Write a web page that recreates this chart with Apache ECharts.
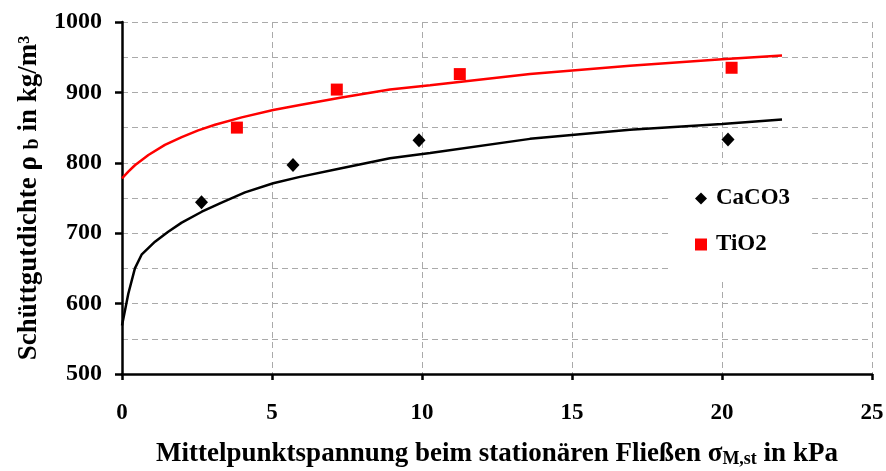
<!DOCTYPE html>
<html>
<head>
<meta charset="utf-8">
<script src="https://cdn.jsdelivr.net/npm/echarts@6/dist/echarts.min.js"></script>
<style>
html,body{margin:0;padding:0;background:#fff;}
#c{width:886px;height:471px;}
</style>
</head>
<body>
<div id="c"></div>
<script>
// Measured points
const caco3X = [2.65, 5.7, 9.9, 20.2];
const caco3Y = [744, 797, 832, 833];
const tio2X = [3.83, 7.16, 11.26, 20.32];
const tio2Y = [850, 904, 926, 935];

// Fit curves
const redFitX = [0, 0.21, 0.43, 0.88, 1.43, 1.99, 2.54, 3.1, 3.99, 5.04, 5.93, 7.27, 8.93, 10.27, 13.6, 16.93, 20, 22];
const redFitY = [778, 787.5, 796.5, 811, 825.5, 836.5, 846, 854, 864.5, 875, 882, 892.5, 904, 910, 926, 938, 947, 952.5];
const blackFitX = [0, 0.21, 0.43, 0.66, 1.1, 1.54, 1.99, 2.66, 3.32, 4.1, 5.04, 5.93, 7.27, 8.93, 10.27, 13.6, 16.93, 20, 22];
const blackFitY = [569, 614, 650, 670, 688, 702, 715, 730.5, 743.5, 758, 771, 780, 792, 806.5, 814, 834, 847, 855, 861.5];

const xTicks = [0, 5, 10, 15, 20, 25];
const yTicks = [500, 600, 700, 800, 900, 1000];

const pairs = (xs, ys) => xs.map((x, i) => [x, ys[i]]);
const FONT = '"Liberation Serif", "Times New Roman", serif';

const chart = echarts.init(document.getElementById('c'), null, {renderer: 'canvas'});
chart.setOption({
  animation: false,
  backgroundColor: '#fff',
  grid: {left: 122, right: 14, top: 22, bottom: 97, containLabel: false, outerBoundsMode: 'none'},
  legend: {
    orient: 'vertical',
    left: 668, top: 165,
    padding: [22, 22, 22, 27],
    backgroundColor: '#fff',
    itemWidth: 12, itemHeight: 12,
    itemGap: 23,
    data: ['CaCO3', 'TiO2'],
    textStyle: {fontFamily: FONT, fontWeight: 'bold', fontSize: 23, color: '#000', lineHeight: 22, padding: [0, 0, 0, 4]}
  },
  xAxis: {
    type: 'value', min: xTicks[0], max: xTicks[xTicks.length - 1], interval: 5,
    name: 'Mittelpunktspannung beim stationären Fließen σ{sub|M,st} in kPa',
    nameLocation: 'middle', nameGap: 66,
    nameTextStyle: {
      fontFamily: FONT, fontWeight: 'bold', fontSize: 27, color: '#000',
      rich: {sub: {fontFamily: FONT, fontWeight: 'bold', fontSize: 18, color: '#000', padding: [10, 0, 0, 0]}}
    },
    axisLine: {show: true, onZero: false, lineStyle: {color: '#000', width: 2.5}},
    axisTick: {show: true, inside: false, length: 6, lineStyle: {color: '#000', width: 2.5}},
    axisLabel: {margin: 28, fontFamily: FONT, fontWeight: 'bold', fontSize: 23, color: '#000'},
    splitLine: {show: true, lineStyle: {color: '#aaa', width: 1, type: [6, 4]}}
  },
  yAxis: {
    type: 'value', min: yTicks[0], max: yTicks[yTicks.length - 1], interval: 100,
    name: 'Schüttgutdichte ρ {sub|b} in kg/m³',
    nameLocation: 'middle', nameGap: 79, nameRotate: 90,
    nameTextStyle: {
      fontFamily: FONT, fontWeight: 'bold', fontSize: 27, color: '#000',
      rich: {sub: {fontFamily: FONT, fontWeight: 'bold', fontSize: 20, color: '#000', padding: [8, 0, 0, 0]}}
    },
    axisLine: {show: true, onZero: false, lineStyle: {color: '#000', width: 2.5}},
    axisTick: {show: true, inside: false, length: 7, lineStyle: {color: '#000', width: 2.5}},
    axisLabel: {margin: 20, fontFamily: FONT, fontWeight: 'bold', fontSize: 24, color: '#000',
                formatter: v => String(v)},
    splitLine: {show: true, lineStyle: {color: '#aaa', width: 1, type: [6, 4]}},
    minorTick: {show: false, splitNumber: 2},
    minorSplitLine: {show: true, lineStyle: {color: '#aaa', width: 1, type: [6, 4]}}
  },
  series: [
    {type: 'line', data: pairs(redFitX, redFitY), showSymbol: false, smooth: false,
     lineStyle: {color: '#ff0000', width: 2.5}, silent: true, z: 3},
    {type: 'line', data: pairs(blackFitX, blackFitY), showSymbol: false, smooth: false,
     lineStyle: {color: '#000', width: 2.5}, silent: true, z: 3},
    {name: 'CaCO3', type: 'scatter', data: pairs(caco3X, caco3Y), symbol: 'diamond', symbolSize: [13, 14],
     itemStyle: {color: '#000', opacity: 1}, z: 5},
    {name: 'TiO2', type: 'scatter', data: pairs(tio2X, tio2Y), symbol: 'rect', symbolSize: 12,
     itemStyle: {color: '#ff0000', opacity: 1}, z: 5}
  ]
});
</script>
</body>
</html>
